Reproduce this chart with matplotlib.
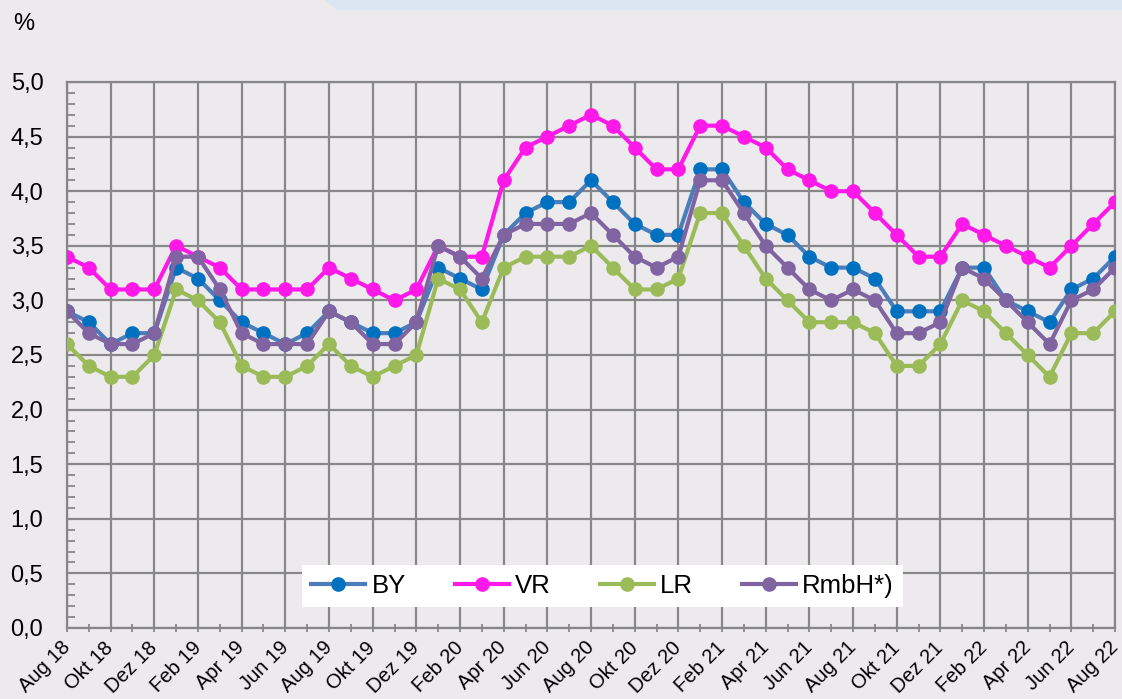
import matplotlib.pyplot as plt
from matplotlib.patches import Polygon
from matplotlib.ticker import MultipleLocator, FuncFormatter
import numpy as np

plt.rcParams['font.family'] = ['Liberation Sans', 'DejaVu Sans']

# monthly values Aug 18 .. Aug 22
month_names = ["Jan", "Feb", "Mär", "Apr", "Mai", "Jun", "Jul", "Aug", "Sep", "Okt", "Nov", "Dez"]
months = [f"{month_names[(7 + i) % 12]} {18 + (7 + i) // 12}" for i in range(49)]

by = [2.9, 2.8, 2.6, 2.7, 2.7, 3.3, 3.2, 3.0, 2.8, 2.7, 2.6, 2.7, 2.9, 2.8, 2.7, 2.7, 2.8,
      3.3, 3.2, 3.1, 3.6, 3.8, 3.9, 3.9, 4.1, 3.9, 3.7, 3.6, 3.6, 4.2, 4.2,
      3.9, 3.7, 3.6, 3.4, 3.3, 3.3, 3.2, 2.9, 2.9, 2.9, 3.3, 3.3, 3.0, 2.9, 2.8, 3.1, 3.2, 3.4]
vr = [3.4, 3.3, 3.1, 3.1, 3.1, 3.5, 3.4, 3.3, 3.1, 3.1, 3.1, 3.1, 3.3, 3.2, 3.1, 3.0, 3.1,
      3.5, 3.4, 3.4, 4.1, 4.4, 4.5, 4.6, 4.7, 4.6, 4.4, 4.2, 4.2, 4.6, 4.6,
      4.5, 4.4, 4.2, 4.1, 4.0, 4.0, 3.8, 3.6, 3.4, 3.4, 3.7, 3.6, 3.5, 3.4, 3.3, 3.5, 3.7, 3.9]
lr = [2.6, 2.4, 2.3, 2.3, 2.5, 3.1, 3.0, 2.8, 2.4, 2.3, 2.3, 2.4, 2.6, 2.4, 2.3, 2.4, 2.5,
      3.2, 3.1, 2.8, 3.3, 3.4, 3.4, 3.4, 3.5, 3.3, 3.1, 3.1, 3.2, 3.8, 3.8,
      3.5, 3.2, 3.0, 2.8, 2.8, 2.8, 2.7, 2.4, 2.4, 2.6, 3.0, 2.9, 2.7, 2.5, 2.3, 2.7, 2.7, 2.9]
rmbh = [2.9, 2.7, 2.6, 2.6, 2.7, 3.4, 3.4, 3.1, 2.7, 2.6, 2.6, 2.6, 2.9, 2.8, 2.6, 2.6, 2.8,
        3.5, 3.4, 3.2, 3.6, 3.7, 3.7, 3.7, 3.8, 3.6, 3.4, 3.3, 3.4, 4.1, 4.1,
        3.8, 3.5, 3.3, 3.1, 3.0, 3.1, 3.0, 2.7, 2.7, 2.8, 3.3, 3.2, 3.0, 2.8, 2.6, 3.0, 3.1, 3.3]

series = [
    ("BY", by, "#4A7EBB", "#0070C0"),
    ("VR", vr, "#FF19E8", "#FF19E8"),
    ("LR", lr, "#9BBB59", "#9BBB59"),
    ("RmbH*)", rmbh, "#8064A2", "#8064A2"),
]

bg = "#ECEAED"
fig = plt.figure(figsize=(11.22, 6.99), dpi=100, facecolor=bg)
ax = fig.add_axes([0.0597, 0.1016, 0.9341, 0.7811], facecolor=bg)

# faint decoration band at the top
fig.patches.append(Polygon([[0.29, 1.0], [1.0, 1.0], [1.0, 0.985], [0.30, 0.985]],
                           closed=True, transform=fig.transFigure,
                           facecolor="#DCE6F2", edgecolor="none"))

x = np.arange(len(months))
for label, vals, lc, mc in series:
    ax.plot(x, vals, '-o', color=lc, markerfacecolor=mc, markeredgecolor=mc,
            linewidth=3, markersize=9.5, label=label, zorder=3)

ax.set_xlim(0, len(months) - 1)
ax.set_ylim(0, 5)
ax.yaxis.set_major_locator(MultipleLocator(0.5))
ax.yaxis.set_minor_locator(MultipleLocator(0.1))
ax.yaxis.set_major_formatter(FuncFormatter(lambda v, p: f"{v:.1f}".replace(".", ",")))
ax.set_xticks(x[::2])
ax.set_xticks(x, minor=True)
ax.set_xticklabels(months[::2], rotation=45, ha='right', va='center', rotation_mode='anchor')

ax.grid(True, which='major', color="#878787", linewidth=1.6, zorder=1)
for s in ax.spines.values():
    s.set_color("#878787")
    s.set_linewidth(1.6)

ax.tick_params(axis='y', which='major', length=0, labelsize=17, pad=17)
ax.tick_params(axis='y', which='minor', direction='in', length=6, color="#878787", width=1.3)
ax.tick_params(axis='x', which='both', direction='inout', length=6, color="#878787",
               width=1.3, labelsize=14.5, pad=9)

fig.text(0.012, 0.965, "%", fontsize=17, va='center')

leg = ax.legend(loc='lower center', bbox_to_anchor=(0.511, 0.038), ncol=4, fontsize=18.5,
                frameon=True, fancybox=False, framealpha=1, edgecolor='white',
                handlelength=2.1, handletextpad=0.25, columnspacing=1.9,
                borderpad=0.35, borderaxespad=0, markerscale=1.0)
leg.get_frame().set_linewidth(0)

fig.savefig("out.png", dpi=100, facecolor=bg)
